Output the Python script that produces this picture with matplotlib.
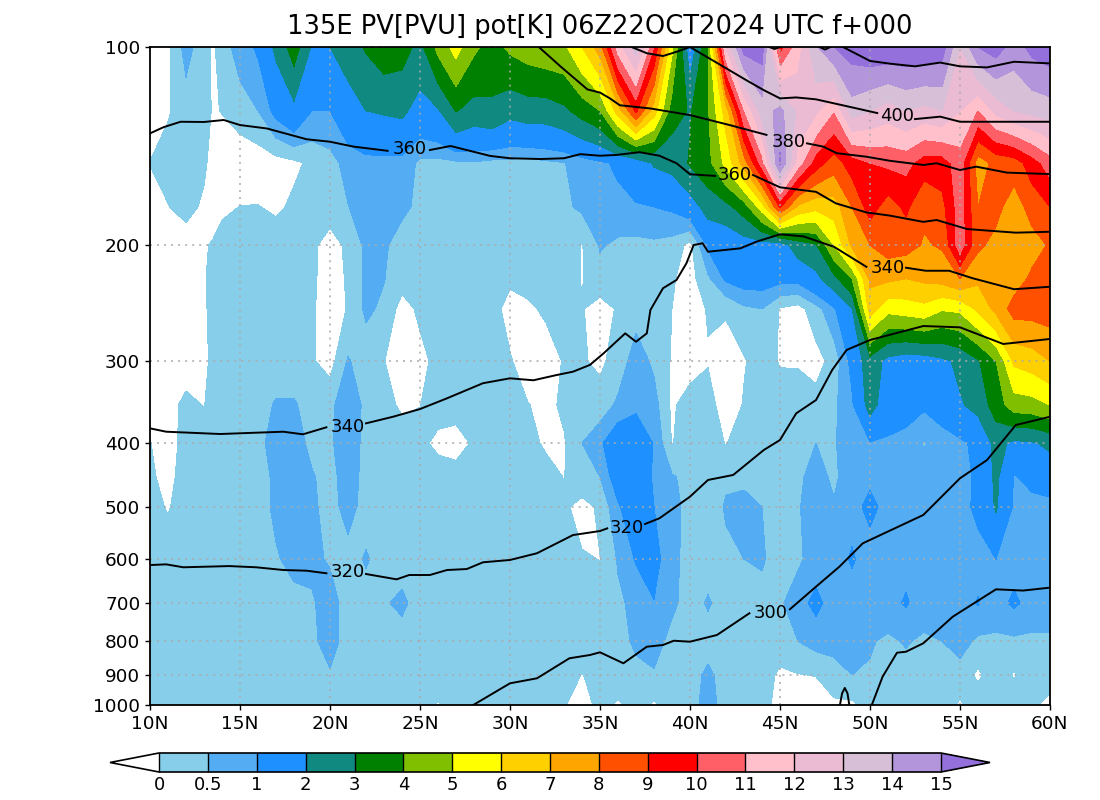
#!/usr/bin/env python3
"""Cross section of PV and potential temperature along 135E."""

import numpy as np
import matplotlib
matplotlib.use("Agg")
import matplotlib.pyplot as plt
from matplotlib.colors import BoundaryNorm, ListedColormap
from matplotlib.cm import ScalarMappable

plt.rcParams["font.family"] = ["DejaVu Sans"]

TITLE = "135E PV[PVU] pot[K] 06Z22OCT2024 UTC f+000"

LATS = [10, 11, 12, 13, 13.5, 14, 15, 16, 17, 18,
        19, 20, 21, 22, 23, 24, 25, 26, 27, 28, 29,
        30, 31, 32, 33, 34, 35, 36, 37, 38, 39,
        40, 41, 42, 43, 44, 45, 46, 47, 48, 49,
        50, 51, 52, 53, 54, 55, 56, 57, 58, 59, 60]
LEVELS_HPA = [100, 125, 150, 175, 200, 225, 250, 300, 350, 400, 450, 500, 600, 700, 800, 900, 1000]

# PV by pressure level, south to north
PV_100 = [-.3, -.1, .7, .2, -.1, .3, .7, 1.1, 2.2, 3.5,
          1.9, 2.0, 2.5, 3.1, 3.6, 3.4, 2.7, 4.3, 5.4, 4.2, 3.6,
          4.2, 4.5, 4.7, 4.8, 6, 7.5, 11.5, 13.5, 10, 5.2,
          1.2, 3.95, 12, 15.5, 15.5, 9.5, 11.5, 13.9, 15, 15.5,
          15.8, 15.8, 15.8, 15.8, 15.5, 13, 15, 15.5, 14.5, 15.3, 15.6]
PV_125 = [-.5, -.05, .25, .2, -.05, .02, .3, .5, 1.2, 1.7,
          1.0, 1.0, 1.5, 2.0, 2.1, 2.2, 1.6, 1.9, 3.05, 2.6, 2.8,
          2.3, 2.5, 2.5, 2.8, 3.4, 4.0, 6.5, 9.2, 6.5, 3.5,
          2.9, 3.9, 6.5, 10.9, 13.5, 14.3, 12.8, 12.2, 11, 13.5,
          13, 12.5, 13, 12.7, 13, 12, 10.9, 12.3, 13, 13.3, 13.5]
PV_150 = [.02, .2, .2, .1, -.2, -.3, -.4, -.3, -.2, -.1,
          .1, .3, .7, .8, .8, .8, .4, .35, .4, .45, .35,
          .35, .3, .4, .48, .7, .9, 1.1, 1.4, 2.1, 2.3,
          3.1, 3.7, 5.3, 7.5, 10.5, 15.2, 11.5, 9.5, 8.5, 9.5,
          10, 10.2, 10.3, 9.5, 9.5, 10.5, 7.5, 8.3, 8.5, 9.5, 10.5]
PV_175 = [-.3, -.02, .2, -.1, -.25, -.1, .01, .02, -.1, .1,
          .2, .35, .48, .8, .8, .65, .35, .3, .3, .3, .3,
          .3, .3, .35, .4, .6, .7, .85, .95, 1.0, 1.1,
          1.5, 2.4, 2.7, 3.5, 5.5, 9.1, 6.8, 6.3, 6.5, 8,
          9.5, 8.5, 9.2, 8.2, 8.7, 10.5, 8, 8.3, 7.5, 8.4, 9]
PV_200 = [-.3, -.3, -.3, -.05, .05, .2, .25, .2, .3, .3,
          .15, -.3, .15, .6, .6, .2, .2, .2, .2, .2, .2,
          .2, .2, .2, .25, -.03, .55, .4, .35, .4, .3,
          -.15, 1.1, 1.2, 1.5, 1.6, 1.5, 2.5, 2.9, 5, 7.2,
          8, 8.5, 8.4, 7.9, 8.1, 10.6, 8.2, 7.7, 7.2, 7.6, 8.1]
PV_225 = [-.3, -.3, -.3, -.03, .1, .25, .25, .25, .25, .25,
          .15, -.4, .1, .6, .52, .2, .2, .2, .2, .2, .2,
          .1, .2, .2, .25, -.03, .3, .2, .3, .4, .05,
          -.2, .4, 1.1, 1.3, 1.3, 1.2, 1.2, 1.7, 2.7, 4,
          7.2, 7.2, 7, 7.2, 7.4, 8, 7.2, 7.2, 7.5, 8.2, 8.4]
PV_250 = [-.3, -.3, -.3, -.05, .1, .2, .2, .2, .2, .2,
          .1, -.4, .05, .6, .4, -.2, .1, .3, .3, .3, .2,
          -.2, -.1, .1, .3, .03, -.2, .05, .3, .15, 0,
          -.3, .05, .05, .4, .5, -.05, -.2, .3, .9, 2,
          6.5, 5.3, 5.5, 5.7, 5.1, 5.2, 6.2, 7.3, 8.4, 8.4, 8.5]
PV_300 = [-.3, -.3, -.3, -.1, .1, .2, .25, .25, .25, .25,
          .05, -.2, .55, .2, .02, -.4, -.15, .15, .25, .25, .25,
          .05, -.3, -.3, .05, .05, -.1, .2, .75, .4, -.05,
          -.3, -.05, -.2, -.05, .3, -.05, -.02, -.2, .2, 1.2,
          2.6, 1.7, 1.4, 1.5, 1.8, 2.2, 2.9, 4, 6.2, 6.5, 7]
PV_350 = [-.3, -.2, .15, -.02, .2, .25, .3, .3, .55, .55,
          .3, .35, .9, .35, .2, -.1, -.01, .25, .3, .3, .3,
          .3, .02, -.15, .1, .3, .2, .6, .8, .7, -.1,
          .3, .3, -.4, .05, .3, .3, .1, .2, .4, .9,
          2.4, 1.4, 1.2, 1.1, 1.3, 1.9, 2.3, 3.5, 4.5, 4.6, 5]
PV_400 = [.02, -.3, .25, .35, .35, .35, .35, .4, .65, .75,
          .35, .4, .9, .3, .3, .3, .15, -.15, -.3, .1, .3,
          .3, .2, -.1, -.05, .5, .9, 1.5, 1.7, .95, -.03,
          .3, .3, -.03, .35, .4, .3, .3, .5, .45, .8,
          .95, .9, .85, .45, .75, .85, 1.2, 2.3, 1.8, 1.9, 2.2]
PV_450 = [.1, -.2, .3, .3, .3, .3, .3, .3, .6, .8,
          .55, .3, .8, .3, .3, .3, .3, .3, .3, .3, .3,
          .3, .3, .25, -.02, .4, .5, 1.4, 1.6, .9, .55,
          .35, .35, .35, .35, .3, .3, .4, .7, .4, .8,
          .9, .8, .8, .8, .8, .8, 1.1, 2.2, .95, 1.2, 1.4]
PV_500 = [.2, -.05, .3, .3, .3, .3, .3, .3, .6, .8,
          .6, .3, .7, .3, .3, .3, .3, .3, .3, .3, .3,
          .3, .3, .3, .1, -.2, .1, .9, 1.6, 1, .6,
          .4, -.02, .6, .7, .5, .35, .45, .8, .55, .85,
          1.12, .85, .85, .85, .85, .85, 1.1, 2.1, .9, .8, .8]
PV_600 = [.3, .3, .3, .3, .3, .3, .3, .3, .45, .65,
          .6, .45, .3, .55, .3, .3, .3, .3, .3, .3, .3,
          .3, .3, .3, .3, .05, -.01, .55, 1.05, 1.2, .65,
          .3, .3, .3, .5, .55, .3, .4, .75, .8, 1.05,
          .8, .8, .85, 1, .8, .8, .85, 1, .8, .8, .8]
PV_700 = [.3, .3, .3, .3, .3, .3, .3, .3, .3, .35,
          .45, .7, .3, .3, .45, .6, .3, .3, .3, .3, .3,
          .3, .3, .3, .3, .3, .3, .4, .65, .98, .6,
          .3, .55, .3, .3, .35, .42, .8, 1.15, .75, .8,
          .75, .85, 1.05, .8, .8, .8, 1.03, .8, 1.1, .8, .8]
PV_800 = [.3, .3, .3, .3, .3, .3, .3, .3, .3, .3,
          .4, .7, .3, .3, .3, .3, .3, .3, .3, .3, .3,
          .3, .3, .3, .3, .3, .3, .3, .6, .7, .35,
          .3, .3, .45, .45, .3, .3, .5, .7, .8, .8,
          .55, .4, .55, .4, .5, .7, .4, .4, .4, .4, .4]
PV_900 = [.3, .3, .3, .3, .3, .3, .3, .3, .3, .3,
          .35, .45, .3, .3, .3, .3, .3, .3, .3, .3, .3,
          .3, .3, .3, .3, -.02, .2, .3, .35, .45, .3,
          .3, .6, .3, .3, .25, -.1, -.02, .02, .15, .5,
          .45, .3, .3, .3, .3, .3, -.1, .3, -.05, .3, .3]
PV_1000 = [.3, .3, .3, .3, .3, .3, .3, .3, .3, .3,
           .3, .3, .3, .3, .3, .3, .3, -.05, .3, .3, .3,
           .3, .3, .3, .05, -.3, .2, -.08, .2, -.08, .3,
           .3, .7, .3, .25, .2, -.2, -.3, -.3, -.05, -.1,
           .2, .3, .3, .3, .3, -.08, .3, .3, .3, .1, -.2]

PV_BOUNDS = [0, 0.5, 1, 2, 3, 4, 5, 6, 7, 8, 9, 10, 11, 12, 13, 14, 15]
PV_TICK_LABELS = ["0", "0.5", "1", "2", "3", "4", "5", "6", "7", "8", "9", "10", "11", "12", "13", "14", "15"]
PV_COLORS = ["#87CEEB", "#54ADF2", "#1E90FF", "#108980", "#008000", "#80BF00", "#FFFF00", "#FFD000",
             "#FFA500", "#FF5000", "#FF0000", "#FF6068", "#FFC0CB", "#EBBBD3", "#D8BFD8", "#B395DC"]
COLOR_UNDER = "white"
COLOR_OVER = "#9370DB"

# isentropes: pressure read along latitude, nan leaves the gap for a label
TH280_LAT = [50.1, 50.7, 51.5, 52, 52.96, 54.6, 57, 58.5, 60]
TH280_P = [1000, 905.7, 832.8, 829.9, 805.8, 734.1, 667.1, 670, 663.2]
TH280B_LAT = [48.33, 48.45, 48.6, 48.75, 48.85]
TH280B_P = [1000, 960, 942, 960, 1000]

TH300_LAT = [27.96, 28.9, 30, 31.5, 33.3, 34.44, 35, 36.3, 37.6, 38.5, 39.1, 40, 41.5, 43.3, 44.5,
             45.55, 47, 48.3, 49.6, 52.96, 55, 56.5, 58.1, 60]
TH300_P = [1000, 965.6, 926.9, 910.8, 849.2, 839.5, 831.6, 864.2, 815.5, 810.6, 798.6, 801.3, 782.7, 725.4, np.nan,
           715.4, 661, 616.3, 567.9, 514.3, 452.3, 424.4, 375.4, 364.7]

TH320_LAT = [10, 10.9, 11.85, 14.4, 15.9, 17.4, 18.7, 19.8, 21, 22, 23.7, 24.4, 25.55, 26.5, 27.6, 28.5, 30, 31.5,
             33.5, 35, 35.4, 36.5, 37.5, 38.3, 40, 41, 42.4, 44.1, 45, 45.9, 47, 47.9, 48.7, 50, 52.96, 55, 57.4, 60]
TH320_P = [612.8, 611.3, 617.6, 615, 617.6, 623.5, 625, 630.7, np.nan, 632.3, 644.2, 634.5, 634.5, 623.5, 621.4,
           606.9, 602, 588, 551.7, 544, 539, np.nan, 530.8, 520.3, 482.4, 455, 447.1, 409.7, 395.6, 360.4, 344,
           309.6, 288.7, 278.8, 265.5, 266.7, 282.7, 277.8]

TH340_LAT = [10, 10.9, 13.9, 17.4, 18.5, 19.8, 21, 22, 23.5, 25, 26.5, 28.5, 30, 31.3, 32.6, 33.5, 34.44, 35.2,
             36.4, 37, 37.6, 37.8, 38.5, 39.25, 39.8, 40.2, 40.7, 41, 42.8, 43.7, 45, 46.3, 48, 49.8, 51, 52, 53.1,
             54.4, 55.7, 58, 60]
TH340_P = [379.8, 384.3, 387.4, 384.3, 387.8, 378.4, np.nan, 373.2, 364.7, 355, 341.9, 324.3, 318.8, 321, 315.1,
           311.5, 304.2, 292.1, 272.4, 280.5, 272.4, 251, 232.6, 226, 213.2, 200, 198.7, 204.7, 202.3, 197.6, 192.6,
           194, 201.2, 215.8, np.nan, 216.5, 218.8, 218.8, 224.6, 233.4, 231.4]

TH360_LAT = [10, 10.75, 11.7, 13, 14.1, 15, 16.5, 18.7, 20, 21.3, 23.2, 24.4, 25.55, 26.7, 28.9, 30, 31.7, 33, 33.9,
             35, 35.9, 37.2, 38.3, 39.25, 40, 41.4, 42.5, 43.5, 45, 47, 48.1, 49.8, 51.1, 52.96, 53.7, 55.4, 58.1, 60]
TH360_P = [135.3, 132.4, 129.9, 130, 129.1, 131.4, 133, 138.1, 139.3, 141.7, 143.8, np.nan, 143.4, 141.4, 146.4,
           147.6, 148, 147.6, 145.5, 146.3, 145.9, 144.5, 146.3, 150.2, 156.1, 157, np.nan, 156.5, 163.4, 166, 172.8,
           178.4, 180.4, 184.4, 183.2, 189.1, 191.5, 190.9]

TH380_LAT = [31.6, 32.8, 34.3, 35, 35.55, 36.1, 37.8, 40, 42.2, 44.25, 45.4, 46.5, 47.4, 48.15, 49.8, 51.1, 52.96,
             53.7, 55, 55.9, 57.6, 60]
TH380_P = [100, 107, 116, 117.3, 119.7, 122.6, 124, 126.9, 131.4, 136, np.nan, 140.1, 141.7, 145, 146.8, 148.9,
           151.1, 150.2, 153.8, 152, 155.2, 156]

TH400_LAT = [36.75, 37.6, 38.5, 39.25, 40, 40.9, 41.85, 43.1, 44.1, 45, 45.9, 47, 48.7, 50.4, 51.5, 52.5, 53.9, 55, 60]
TH400_P = [100, 102.2, 103.2, 101.7, 100, 103.4, 107.1, 112.2, 116.3, 119.7, 119.3, 120.1, 123, 126, np.nan, 128.7,
           127.6, 129.9, 129.9]

TH420_LAT = [48.5, 50, 51.1, 52.5, 53.9, 55, 56.5, 58, 60]
TH420_P = [100, 105, 106, 107, 105.6, 107, 107.4, 105.3, 105.9]
TH420B_LAT = [44.4, 44.7, 45]
TH420B_P = [100, 100.7, 100]
TH420C_LAT = [47.2, 47.5, 47.8]
TH420C_P = [100, 100.9, 100]

LABEL_TEXT = ["360", "360", "380", "400", "340", "340", "320", "320", "300"]
LABEL_LAT = [24.44, 42.5, 45.5, 51.5, 21, 51, 21, 36.5, 44.5]
LABEL_P = [142.9, 156.5, 139.3, 127.3, 378.4, 216.5, 628.9, 537.9, 725.4]

X_TICKS = [10, 15, 20, 25, 30, 35, 40, 45, 50, 55, 60]
X_TICK_LABELS = ["10N", "15N", "20N", "25N", "30N", "35N", "40N", "45N", "50N", "55N", "60N"]
Y_TICKS = [100, 200, 300, 400, 500, 600, 700, 800, 900, 1000]


def main():
    pv = np.array([PV_100, PV_125, PV_150, PV_175, PV_200, PV_225, PV_250, PV_300, PV_350,
                   PV_400, PV_450, PV_500, PV_600, PV_700, PV_800, PV_900, PV_1000])

    fig = plt.figure(figsize=(11, 8), dpi=100)
    ax = fig.add_axes([150 / 1100, 1 - 705 / 800, 900 / 1100, 658 / 800])

    cmap = ListedColormap(PV_COLORS)
    cmap.set_under(COLOR_UNDER)
    cmap.set_over(COLOR_OVER)
    norm = BoundaryNorm(PV_BOUNDS, cmap.N)
    ax.contourf(LATS, LEVELS_HPA, pv, levels=PV_BOUNDS, cmap=cmap, norm=norm, extend="both")

    ax.set_yscale("log")
    ax.set_xlim(10, 60)
    ax.set_ylim(1000, 100)
    ax.set_xticks(X_TICKS)
    ax.set_xticklabels(X_TICK_LABELS)
    ax.set_yticks(Y_TICKS)
    ax.set_yticklabels([str(t) for t in Y_TICKS])
    ax.minorticks_off()
    ax.tick_params(labelsize=13.3, width=1.0, length=3.5)
    ax.grid(True, color="#aaaaaa", linestyle=(0, (1.3, 3.3)), linewidth=1.1)
    ax.set_axisbelow(False)
    for spine in ax.spines.values():
        spine.set_linewidth(1.3)
        spine.set_zorder(6)

    lines = [(TH280_LAT, TH280_P), (TH280B_LAT, TH280B_P), (TH300_LAT, TH300_P), (TH320_LAT, TH320_P),
             (TH340_LAT, TH340_P), (TH360_LAT, TH360_P), (TH380_LAT, TH380_P), (TH400_LAT, TH400_P),
             (TH420_LAT, TH420_P), (TH420B_LAT, TH420B_P), (TH420C_LAT, TH420C_P)]
    for lat, p in lines:
        ax.plot(lat, p, color="black", linewidth=1.4, zorder=4)
    for txt, lat, p in zip(LABEL_TEXT, LABEL_LAT, LABEL_P):
        ax.text(lat, p, txt, ha="center", va="center", fontsize=13, color="black", zorder=5)

    ax.set_title(TITLE, fontsize=18.5, pad=9)

    # the long side of cax also holds the two triangles
    cax = fig.add_axes([110 / 1100, 1 - 772 / 800, 880 / 1100, 19 / 800])
    sm = ScalarMappable(norm=norm, cmap=cmap)
    cb = fig.colorbar(sm, cax=cax, orientation="horizontal", extend="both", extendfrac=0.0627,
                      drawedges=True, spacing="uniform", ticks=PV_BOUNDS)
    cb.ax.set_xticklabels(PV_TICK_LABELS)
    cb.ax.tick_params(labelsize=13, length=0, pad=3)
    cb.outline.set_linewidth(1.2)
    cb.dividers.set_linewidth(1.0)

    fig.savefig("out.png", dpi=100)


if __name__ == "__main__":
    main()
